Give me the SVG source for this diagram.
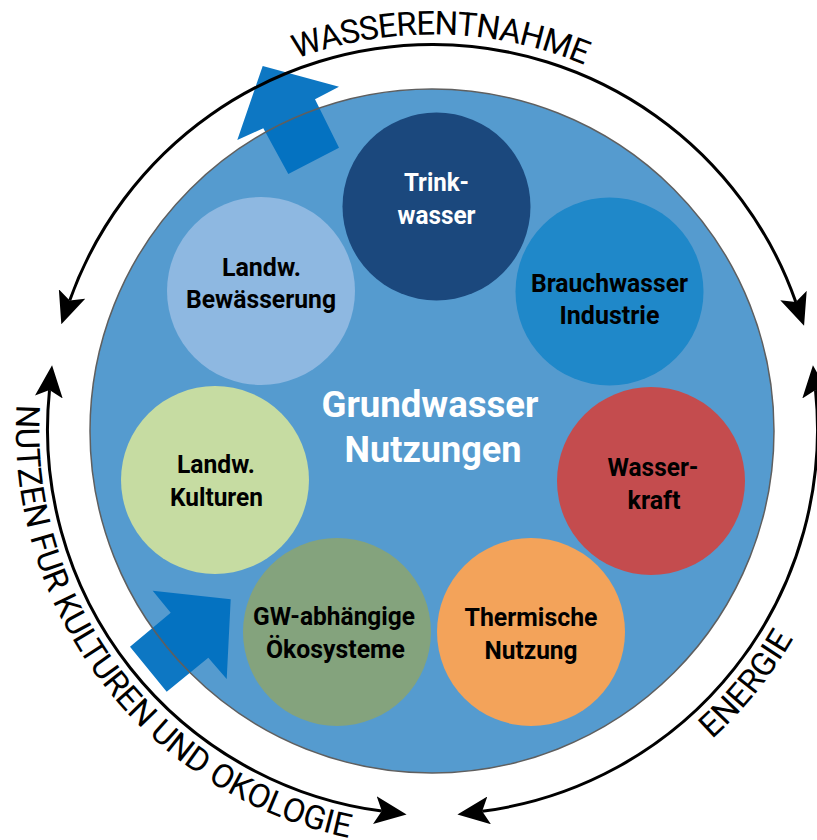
<svg xmlns="http://www.w3.org/2000/svg" xmlns:xlink="http://www.w3.org/1999/xlink" width="817" height="840" viewBox="0 0 817 840">
<style>
.lbl{font-family:Roboto,"Liberation Sans",sans-serif;font-weight:700;font-size:26.5px;fill:#000;text-anchor:middle;}
.wht{fill:#fff;}
.ctr{font-family:Roboto,"Liberation Sans",sans-serif;font-weight:700;font-size:37px;fill:#fff;text-anchor:middle;}
.arc{fill:none;stroke:#000;stroke-width:3;marker-start:url(#ah);marker-end:url(#ah);}
.ring{font-family:Roboto,"Liberation Sans",sans-serif;font-weight:400;font-size:33px;fill:#000;}
.bluearrow{fill:#0070C0;fill-opacity:0.95;}
</style>
<defs>
<marker id="ah" markerUnits="userSpaceOnUse" markerWidth="32" markerHeight="28" viewBox="0 0 32 28" refX="7" refY="14" orient="auto-start-reverse">
<path d="M0,0 L32,14 L0,28 L7,14 Z" fill="#000"/>
</marker>
<path id="tpTop" d="M 90.4 232 A 395 395 0 0 1 774.6 232"/>
<path id="tpLeft" d="M 164.5 110.1 A 417 417 0 0 0 671.7 771.1"/>
<path id="tpRight" d="M 504.9 840.2 A 417 417 0 0 0 849.2 414.9"/>
</defs>
<rect width="817" height="840" fill="#fff"/>

<g id="main-circle">
<circle cx="432" cy="431" r="342" fill="#559BCF"/>
</g>

<g id="blue-arrows">
<polygon class="bluearrow" points="262.7,66 339,86.7 315,99.3 339,147.7 288.3,174 263.3,128.3 237.3,140"/>
<polygon class="bluearrow" points="230.7,599.3 226.7,679 208.3,657.7 166.7,691.7 130,646.7 170.7,612.7 152.7,590.7"/>
</g>
<circle cx="432" cy="431" r="342" fill="none" stroke="#5f5f5f" stroke-width="1.5"/>

<g id="node-trinkwasser">
<circle cx="436.5" cy="206.5" r="94" fill="#1B487D"/>
<text class="lbl wht" x="436.5" y="190.7" textLength="65" lengthAdjust="spacingAndGlyphs">Trink-</text>
<text class="lbl wht" x="436.5" y="224" textLength="78" lengthAdjust="spacingAndGlyphs">wasser</text>
</g>
<g id="node-brauchwasser">
<circle cx="609.5" cy="291.5" r="94" fill="#1F88C9"/>
<text class="lbl" x="609.5" y="291.7" textLength="157" lengthAdjust="spacingAndGlyphs">Brauchwasser</text>
<text class="lbl" x="609.5" y="324" textLength="100" lengthAdjust="spacingAndGlyphs">Industrie</text>
</g>
<g id="node-wasserkraft">
<circle cx="651" cy="481" r="94" fill="#C44C4E"/>
<text class="lbl" x="653" y="476" textLength="91" lengthAdjust="spacingAndGlyphs">Wasser-</text>
<text class="lbl" x="654" y="509" textLength="53" lengthAdjust="spacingAndGlyphs">kraft</text>
</g>
<g id="node-thermische">
<circle cx="531" cy="632" r="94" fill="#F3A35A"/>
<text class="lbl" x="531" y="626" textLength="133" lengthAdjust="spacingAndGlyphs">Thermische</text>
<text class="lbl" x="531" y="659" textLength="93" lengthAdjust="spacingAndGlyphs">Nutzung</text>
</g>
<g id="node-gw">
<circle cx="337" cy="632" r="94" fill="#84A37D"/>
<text class="lbl" x="334" y="625" textLength="162" lengthAdjust="spacingAndGlyphs">GW-abhängige</text>
<text class="lbl" x="335.5" y="658.3" textLength="139" lengthAdjust="spacingAndGlyphs">Ökosysteme</text>
</g>
<g id="node-kulturen">
<circle cx="215" cy="480" r="94" fill="#C6DCA2"/>
<text class="lbl" x="216" y="473" textLength="78" lengthAdjust="spacingAndGlyphs">Landw.</text>
<text class="lbl" x="216.5" y="506" textLength="93" lengthAdjust="spacingAndGlyphs">Kulturen</text>
</g>
<g id="node-bewaesserung">
<circle cx="261" cy="291" r="94" fill="#8EB8E1"/>
<text class="lbl" x="261.5" y="276" textLength="79" lengthAdjust="spacingAndGlyphs">Landw.</text>
<text class="lbl" x="261" y="308" textLength="150" lengthAdjust="spacingAndGlyphs">Bewässerung</text>
</g>

<g id="center-label">
<text class="ctr" x="430" y="416.7" textLength="217" lengthAdjust="spacingAndGlyphs">Grundwasser</text>
<text class="ctr" x="433" y="462" textLength="177" lengthAdjust="spacingAndGlyphs">Nutzungen</text>
</g>

<g id="connectors">
<path class="arc" d="M 69.7 300.6 A 385 385 0 0 1 795.8 302.1"/>
<path class="arc" d="M 815.5 390.1 A 385 385 0 0 1 482.2 811.3"/>
<path class="arc" d="M 381.8 811.1 A 385 385 0 0 1 49.5 390.1"/>
</g>

<g id="ring-labels">
<text class="ring"><textPath xlink:href="#tpTop" href="#tpTop" startOffset="422" text-anchor="middle" textLength="295" lengthAdjust="spacing">WASSERENTNAHME</textPath></text>
<text class="ring"><textPath xlink:href="#tpLeft" href="#tpLeft" startOffset="50%" text-anchor="middle" textLength="595" lengthAdjust="spacing">NUTZEN FUR KULTUREN UND OKOLOGIE</textPath></text>
<text class="ring"><textPath xlink:href="#tpRight" href="#tpRight" startOffset="50%" text-anchor="middle" textLength="130" lengthAdjust="spacing">ENERGIE</textPath></text>
</g>
</svg>
